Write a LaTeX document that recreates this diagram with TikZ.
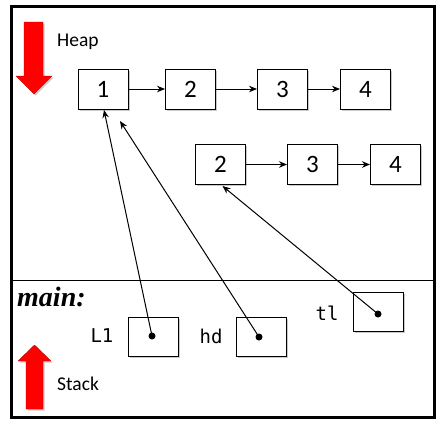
\documentclass[tikz,border=0pt]{standalone}
\usepackage{fontspec}
\setmainfont{Carlito}
\newfontfamily\monof{DejaVu Sans Mono}
\newfontfamily\serifbi{Liberation Serif}
\usetikzlibrary{shadows,arrows.meta}
\tikzset{
  shad/.style={drop shadow={shadow xshift=1.5pt,shadow yshift=-1.5pt,opacity=0.35,fill=black!60}},
  cell/.style={draw,line width=1pt,fill=white,minimum width=50pt,minimum height=40pt,inner sep=0pt,font=\fontsize{25}{27}\selectfont,shad},
  var/.style={draw,line width=1pt,fill=white,minimum width=50pt,minimum height=39pt,inner sep=0pt,shad},
  dotn/.style={circle,fill=black,inner sep=0pt,minimum size=7pt},
  ptr/.style={line width=1pt,-{Stealth[length=8pt,width=6.5pt]}},
  lbl/.style={font=\fontsize{19.5}{21}\selectfont,inner sep=0pt},
  mono/.style={font=\monof\fontsize{19}{21}\selectfont,inner sep=0pt},
  redarrow/.style={fill=red,draw=red!70!black,line width=0.3pt,shad}
}
\begin{document}
\begin{tikzpicture}[x=1pt,y=-1pt]
\useasboundingbox (0,0) rectangle (445,431);
% frame
\draw[line width=3pt,fill=white,shad] (11.5,6.5) rectangle (434,417);
\draw[line width=1pt] (13,280) -- (432.5,280);
% red arrows
\path[redarrow] (24,22) -- (43,22) -- (43,76) -- (52,76) -- (34,94) -- (16,76) -- (24,76) -- cycle;
\path[redarrow] (26,409) -- (43,409) -- (43,361) -- (51,361) -- (34.5,345) -- (18,361) -- (26,361) -- cycle;
% labels
\node[lbl,anchor=west] (heap) at (57,42) {Heap};
\node[lbl,anchor=west] (stack) at (57,384) {Stack};
\node[anchor=west,inner sep=0pt,font=\serifbi\bfseries\itshape\fontsize{28}{30}\selectfont] (main) at (17,297) {main:};
% heap cells
\node[cell] (b1) at (103,89) {1};
\node[cell] (b2) at (190.5,89) {2};
\node[cell] (b3) at (282.5,89) {3};
\node[cell] (b4) at (365.5,89) {4};
\node[cell] (c2) at (220.5,164.5) {2};
\node[cell] (c3) at (312.5,164.5) {3};
\node[cell] (c4) at (395.5,164.5) {4};
\draw[ptr] (b1.east) -- (b2.west);
\draw[ptr] (b2.east) -- (b3.west);
\draw[ptr] (b3.east) -- (b4.west);
\draw[ptr] (c2.east) -- (c3.west);
\draw[ptr] (c3.east) -- (c4.west);
% stack variables
\node[var] (vL1) at (153,336.5) {};
\node[var] (vhd) at (261.5,336.5) {};
\node[var] (vtl) at (378.5,312) {};
\node[mono] (tL1) at (102,336) {L1};
\node[mono] (thd) at (211,336) {hd};
\node[mono] (ttl) at (327,313) {tl};
\node[dotn] (dL1) at (152,336) {};
\node[dotn] (dhd) at (259,337) {};
\node[dotn] (dtl) at (378,314) {};
\coordinate (hdend) at (120,121);
\coordinate (tlend) at (222.5,186);
\coordinate (l1end) at (104,110);
\draw[ptr] (dL1.center) -- (l1end);
\draw[ptr] (dhd.center) -- (hdend);
\draw[ptr] (dtl.center) -- (tlend);
\end{tikzpicture}
\end{document}
